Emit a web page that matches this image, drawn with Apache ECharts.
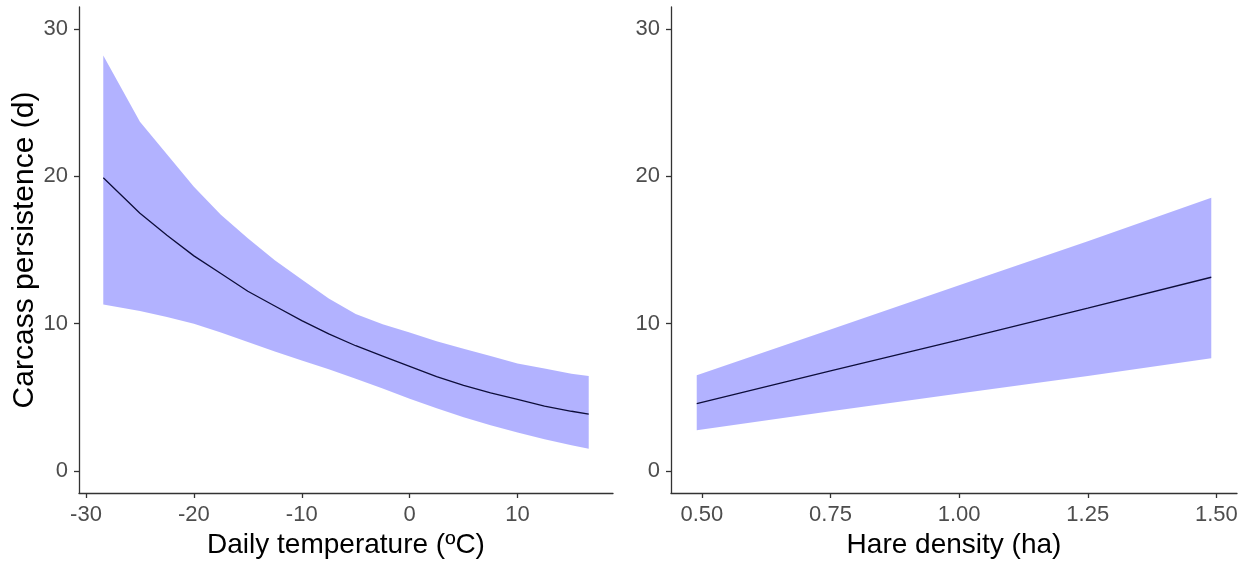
<!DOCTYPE html>
<html>
<head>
<meta charset="utf-8">
<title>Carcass persistence</title>
<script src="https://cdn.jsdelivr.net/npm/echarts@6/dist/echarts.min.js"></script>
<style>
  html, body { margin: 0; padding: 0; background: #fff; }
  #chart { width: 1252px; height: 567px; }
</style>
</head>
<body>
<div id="chart"></div>
<script>
// Left panel: persistence vs daily temperature (fit with confidence band)
const tempX     = [-28.4, -25, -22.5, -20, -17.5, -15, -12.5, -10, -7.5, -5, -2.5, 0, 2.5, 5, 7.5, 10, 12.5, 15, 16.6];
const tempFit   = [19.9, 17.5, 16.0, 14.6, 13.4, 12.2, 11.2, 10.2, 9.3, 8.5, 7.8, 7.1, 6.4, 5.8, 5.3, 4.85, 4.4, 4.05, 3.85];
const tempUpper = [28.2, 23.7, 21.5, 19.3, 17.4, 15.8, 14.3, 13.0, 11.7, 10.65, 9.95, 9.4, 8.8, 8.3, 7.8, 7.3, 6.95, 6.6, 6.45];
const tempLower = [11.3, 10.85, 10.45, 10.0, 9.4, 8.75, 8.1, 7.5, 6.9, 6.25, 5.6, 4.9, 4.25, 3.65, 3.1, 2.6, 2.15, 1.75, 1.5];

// Right panel: persistence vs hare density
const densX     = [0.49, 0.75, 1.0, 1.25, 1.49];
const densFit   = [4.57, 6.8, 8.9, 11.05, 13.15];
const densUpper = [6.5, 9.6, 12.6, 15.6, 18.55];
const densLower = [2.76, 4.05, 5.25, 6.45, 7.65];

// Tick positions and labels
const tempTicks  = [-30, -20, -10, 0, 10];
const tempLabels = ['-30', '-20', '-10', '0', '10'];
const densTicks  = [0.5, 0.75, 1.0, 1.25, 1.5];
const densLabels = ['0.50', '0.75', '1.00', '1.25', '1.50'];
const yTicks     = [0, 10, 20, 30];
const yLabels    = ['0', '10', '20', '30'];

const FONT = 'Liberation Sans, Arial, sans-serif';
const AXIS_COLOR = '#333333';
const LABEL_COLOR = '#4D4D4D';
const BAND_FILL = 'rgba(0, 0, 255, 0.3)';
const LINE_COLOR = '#0d0d3a';

function labelFor(ticks, labels) {
  return function (v) {
    for (let i = 0; i < ticks.length; i++) {
      if (Math.abs(ticks[i] - v) < 1e-9) return labels[i];
    }
    return '';
  };
}

function bandSeries(idx, xs, lo, hi) {
  return {
    type: 'custom',
    xAxisIndex: idx,
    yAxisIndex: idx,
    silent: true,
    z: 1,
    data: xs.map((x, i) => [x, lo[i], hi[i]]),
    encode: { x: 0, y: [1, 2] },
    renderItem: function (params, api) {
      if (params.dataIndex !== 0) return { type: 'group', children: [] };
      const pts = [];
      for (let i = 0; i < xs.length; i++) pts.push(api.coord([xs[i], hi[i]]));
      for (let i = xs.length - 1; i >= 0; i--) pts.push(api.coord([xs[i], lo[i]]));
      return { type: 'polygon', shape: { points: pts }, style: { fill: BAND_FILL } };
    }
  };
}

function fitSeries(idx, xs, ys) {
  return {
    type: 'line',
    xAxisIndex: idx,
    yAxisIndex: idx,
    z: 3,
    symbol: 'none',
    smooth: false,
    data: xs.map((x, i) => [x, ys[i]]),
    lineStyle: { color: LINE_COLOR, width: 1.3 }
  };
}

function xAxisCfg(idx, min, max, ticks, labels, name) {
  return {
    type: 'value',
    gridIndex: idx,
    min: min,
    max: max,
    splitLine: { show: false },
    axisLine: { show: true, onZero: false, lineStyle: { color: AXIS_COLOR, width: 1.3 } },
    axisTick: { show: true, customValues: ticks, length: 5, lineStyle: { color: AXIS_COLOR, width: 1.3 } },
    axisLabel: {
      customValues: ticks,
      formatter: labelFor(ticks, labels),
      fontSize: 22, color: LABEL_COLOR, fontFamily: FONT, margin: 11
    },
    name: name,
    nameLocation: 'middle',
    nameGap: 38,
    nameTextStyle: { fontSize: 28, color: '#000', fontFamily: FONT }
  };
}

function yAxisCfg(idx, name) {
  const cfg = {
    type: 'value',
    gridIndex: idx,
    min: -1.5,
    max: 31.5,
    splitLine: { show: false },
    axisLine: { show: true, onZero: false, lineStyle: { color: AXIS_COLOR, width: 1.3 } },
    axisTick: { show: true, customValues: yTicks, length: 5, lineStyle: { color: AXIS_COLOR, width: 1.3 } },
    axisLabel: {
      customValues: yTicks,
      formatter: labelFor(yTicks, yLabels),
      fontSize: 22, color: LABEL_COLOR, fontFamily: FONT, margin: 11
    }
  };
  if (name) {
    cfg.name = name;
    cfg.nameLocation = 'middle';
    cfg.nameGap = 38;
    cfg.nameTextStyle = { fontSize: 30, color: '#000', fontFamily: FONT };
  }
  return cfg;
}

const chart = echarts.init(document.getElementById('chart'), null, { renderer: 'canvas' });
chart.setOption({
  animation: false,
  backgroundColor: '#ffffff',
  grid: [
    { left: 79, top: 7, width: 534, height: 486 },
    { left: 671, top: 7, width: 566, height: 486 }
  ],
  xAxis: [
    xAxisCfg(0, -30.65, 18.85, tempTicks, tempLabels, 'Daily temperature (ºC)'),
    xAxisCfg(1, 0.44, 1.54, densTicks, densLabels, 'Hare density (ha)')
  ],
  yAxis: [
    yAxisCfg(0, 'Carcass persistence (d)'),
    yAxisCfg(1, null)
  ],
  series: [
    bandSeries(0, tempX, tempLower, tempUpper),
    fitSeries(0, tempX, tempFit),
    bandSeries(1, densX, densLower, densUpper),
    fitSeries(1, densX, densFit)
  ]
});
</script>
</body>
</html>
